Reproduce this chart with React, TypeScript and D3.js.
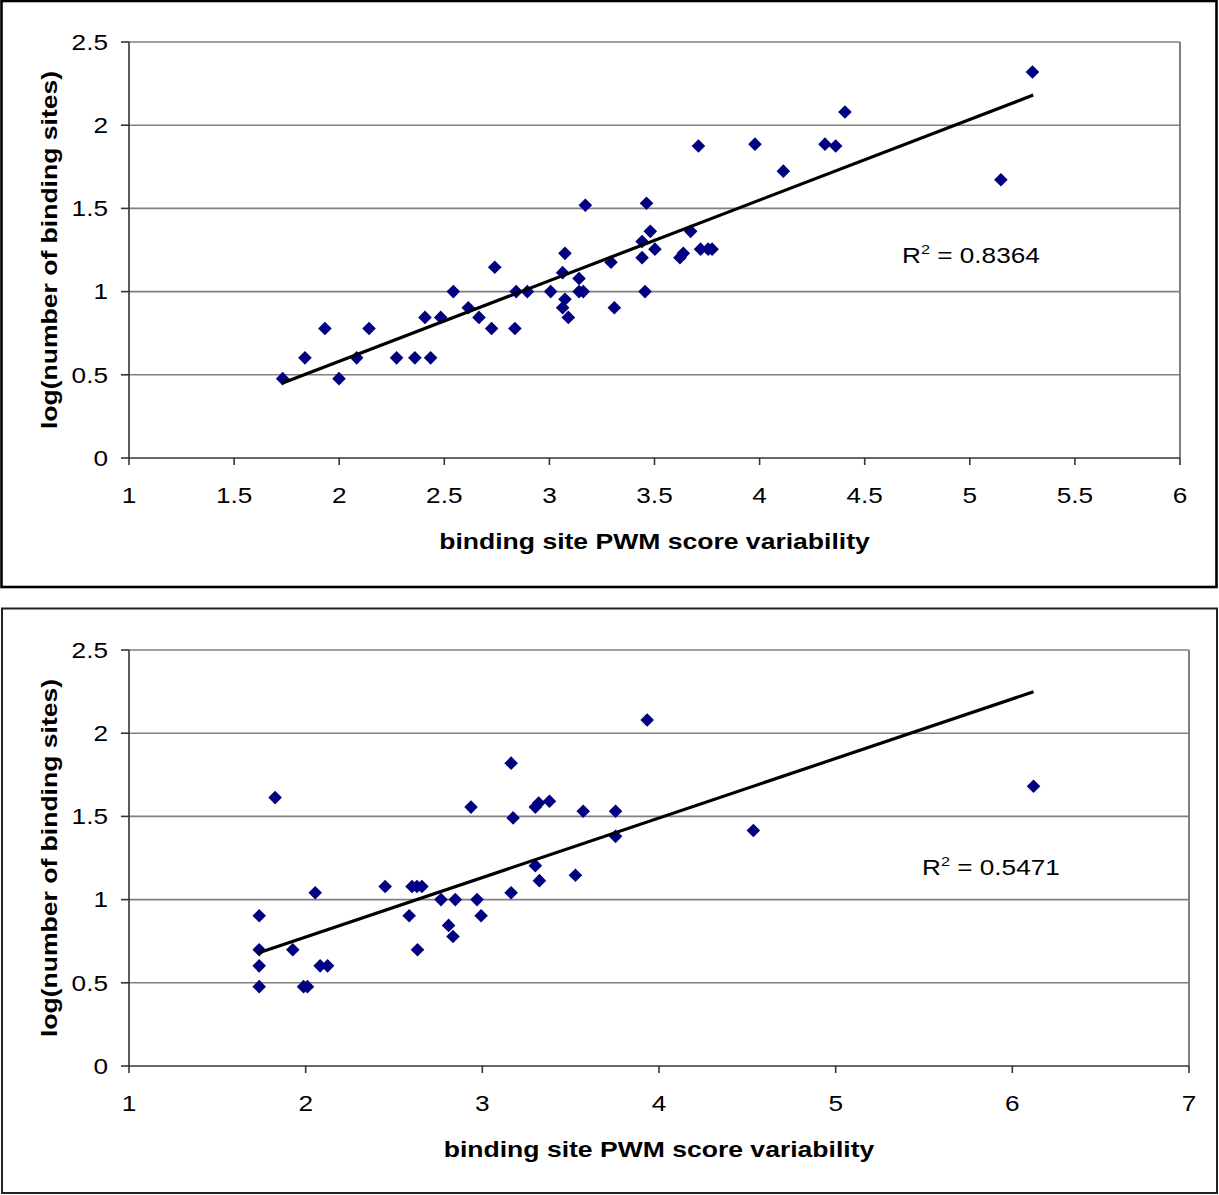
import React from 'react';
import * as d3 from 'd3';

// ---- data ----
const TOP_X = [
  1.731, 1.837, 1.932, 1.999, 2.083, 2.142, 2.273, 2.36, 2.435, 2.408,
  2.483, 2.543, 2.614, 2.665, 2.725, 2.74, 2.836, 2.842, 2.895, 3.006,
  3.074, 3.063, 3.074, 3.063, 3.09, 3.141, 3.141, 3.161, 3.171, 3.293,
  3.309, 3.441, 3.441, 3.455, 3.462, 3.48, 3.502, 3.621, 3.637, 3.672,
  3.709, 3.719, 3.755, 3.774, 3.978, 4.113, 4.311, 4.362, 4.406, 5.148,
  5.298,
];
const TOP_Y = [
  0.477, 0.602, 0.778, 0.477, 0.602, 0.778, 0.602, 0.602, 0.602, 0.845,
  0.845, 1.0, 0.903, 0.845, 0.778, 1.146, 0.778, 1.0, 1.0, 1.0,
  1.23, 1.114, 0.954, 0.903, 0.845, 1.079, 1.0, 1.0, 1.519, 1.176,
  0.903, 1.301, 1.204, 1.0, 1.531, 1.362, 1.255, 1.204, 1.23, 1.362,
  1.875, 1.255, 1.255, 1.255, 1.886, 1.724, 1.886, 1.875, 2.079, 1.672,
  2.32,
];
const BOTTOM_X = [
  1.737, 1.737, 1.737, 1.737, 1.827, 1.927, 1.988, 2.01, 2.054, 2.082,
  2.124, 2.45, 2.586, 2.602, 2.63, 2.658, 2.633, 2.766, 2.809, 2.834,
  2.847, 2.936, 2.97, 2.993, 3.163, 3.174, 3.163, 3.3, 3.319, 3.38,
  3.3, 3.323, 3.527, 3.571, 3.754, 3.754, 3.933, 4.534, 6.12,
];
const BOTTOM_Y = [
  0.477, 0.602, 0.699, 0.903, 1.613, 0.699, 0.477, 0.477, 1.041, 0.602,
  0.602, 1.079, 0.903, 1.079, 1.079, 1.079, 0.699, 1.0, 0.845, 0.778,
  1.0, 1.556, 1.0, 0.903, 1.82, 1.491, 1.041, 1.556, 1.58, 1.591,
  1.204, 1.114, 1.146, 1.531, 1.531, 1.38, 2.079, 1.415, 1.681,
];
// linear trend lines: [x, y] at start and end
const TOP_TREND: [number, number][] = [[1.728, 0.449], [5.302, 2.181]];
const BOTTOM_TREND: [number, number][] = [[1.727, 0.677], [6.12, 2.249]];
const TOP_X_TICKS = [1, 1.5, 2, 2.5, 3, 3.5, 4, 4.5, 5, 5.5, 6];
const BOTTOM_X_TICKS = [1, 2, 3, 4, 5, 6, 7];
const Y_TICKS = [0, 0.5, 1, 1.5, 2, 2.5];
const TOP_R2 = '0.8364';
const BOTTOM_R2 = '0.5471';
const X_TITLE = 'binding site PWM score variability';
const Y_TITLE = 'log(number of binding sites)';

// ---- style ----
const FONT = '"Liberation Sans", Arial, Helvetica, sans-serif';
const TICK_FS = 22;
const TICK_SX = 1.19;
const TITLE_FS = 22.5;
const TITLE_SX = 1.18;
const MARKER = '#000080';
const GRID = '#808080';

function SText(props: {
  x: number; y: number; rotate?: number; sx: number; anchor: string;
  size: number; bold?: boolean; children: React.ReactNode;
}) {
  const { x, y, rotate = 0, sx, anchor, size, bold, children } = props;
  return (
    <g transform={`translate(${x},${y}) rotate(${rotate}) scale(${sx},1)`}>
      <text
        textAnchor={anchor as any}
        fontFamily={FONT}
        fontSize={size}
        fontWeight={bold ? 'bold' : 'normal'}
        fill="#000"
      >
        {children}
      </text>
    </g>
  );
}

const diamond = (s: number) => `M0,${-s}L${s},0L0,${s}L${-s},0Z`;

function Panel(props: {
  xs: number[]; ys: number[]; trend: [number, number][];
  xDomain: [number, number]; xTicks: number[];
  left: number; right: number; top: number; bottom: number;
  frame: { x: number; y: number; w: number; h: number; sw: number; color: string };
  r2: string; r2x: number; r2y: number;
}) {
  const { xs, ys, trend, xDomain, xTicks, left, right, top, bottom, frame, r2, r2x, r2y } = props;
  const x = d3.scaleLinear().domain(xDomain).range([left, right]);
  const y = d3.scaleLinear().domain([0, 2.5]).range([bottom, top]);
  const trendPath = d3.line<[number, number]>()
    .x((d) => x(d[0]))
    .y((d) => y(d[1]))(trend) as string;
  const midX = (left + right) / 2;
  const midY = (top + bottom) / 2;
  return (
    <g>
      <rect x={frame.x} y={frame.y} width={frame.w} height={frame.h}
        fill="#fff" stroke={frame.color} strokeWidth={frame.sw} />
      {/* gridlines */}
      {Y_TICKS.filter((t) => t > 0).map((t) => (
        <line key={'g' + t} x1={left} x2={right} y1={y(t)} y2={y(t)}
          stroke={GRID} strokeWidth={1.6} />
      ))}
      {/* right plot border */}
      <line x1={right} x2={right} y1={top} y2={bottom} stroke={GRID} strokeWidth={2} />
      {/* y axis */}
      <line x1={left} x2={left} y1={top} y2={bottom} stroke="#333" strokeWidth={1.6} />
      {Y_TICKS.map((t) => (
        <line key={'yt' + t} x1={left - 8} x2={left} y1={y(t)} y2={y(t)}
          stroke="#333" strokeWidth={1.6} />
      ))}
      {Y_TICKS.map((t) => (
        <SText key={'yl' + t} x={left - 21} y={y(t) + 7.8} sx={TICK_SX}
          anchor="end" size={TICK_FS}>{String(t)}</SText>
      ))}
      {/* x axis */}
      <line x1={left} x2={right} y1={bottom} y2={bottom} stroke="#333" strokeWidth={1.6} />
      {xTicks.map((t) => (
        <line key={'xt' + t} x1={x(t)} x2={x(t)} y1={bottom} y2={bottom + 7}
          stroke="#333" strokeWidth={1.6} />
      ))}
      {xTicks.map((t) => (
        <SText key={'xl' + t} x={x(t)} y={bottom + 45} sx={TICK_SX}
          anchor="middle" size={TICK_FS}>{String(t)}</SText>
      ))}
      {/* titles */}
      <SText x={midX} y={bottom + 91} sx={TITLE_SX} anchor="middle"
        size={TITLE_FS} bold>{X_TITLE}</SText>
      <SText x={57} y={midY} rotate={-90} sx={TITLE_SX} anchor="middle"
        size={TITLE_FS} bold>{Y_TITLE}</SText>
      {/* points */}
      {xs.map((v, i) => (
        <path key={'p' + i} d={diamond(6.8)}
          transform={`translate(${x(v)},${y(ys[i])})`} fill={MARKER} />
      ))}
      {/* trend line */}
      <path d={trendPath} stroke="#000" strokeWidth={3.2} fill="none" />
      {/* R squared */}
      <g transform={`translate(${r2x},${r2y}) scale(${TICK_SX},1)`}>
        <text fontFamily={FONT} fontSize={TICK_FS} fill="#000">
          R<tspan fontSize={TICK_FS * 0.62} dy={-9}>2</tspan>
          <tspan dy={9}> = {r2}</tspan>
        </text>
      </g>
    </g>
  );
}

export default function App() {
  return (
    <svg width={1219} height={1195}
      style={{ position: 'absolute', left: 0, top: 0, background: '#fff' }}>
      <Panel xs={TOP_X} ys={TOP_Y} trend={TOP_TREND} xDomain={[1, 6]} xTicks={TOP_X_TICKS}
        left={129} right={1180} top={42} bottom={458}
        frame={{ x: 1.5, y: 1, w: 1215, h: 586, sw: 2.6, color: '#000' }}
        r2={TOP_R2} r2x={902} r2y={263} />
      <Panel xs={BOTTOM_X} ys={BOTTOM_Y} trend={BOTTOM_TREND} xDomain={[1, 7]} xTicks={BOTTOM_X_TICKS}
        left={129} right={1189} top={650} bottom={1066}
        frame={{ x: 2, y: 608.5, w: 1215, h: 584.5, sw: 2, color: '#222' }}
        r2={BOTTOM_R2} r2x={922} r2y={875} />
    </svg>
  );
}
